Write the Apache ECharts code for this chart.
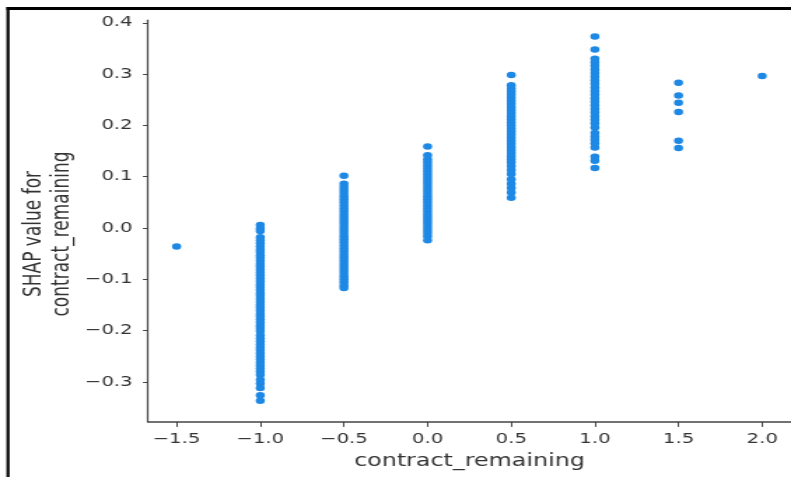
<!DOCTYPE html>
<html>
<head>
<meta charset="utf-8">
<script src="https://cdn.jsdelivr.net/npm/echarts@6/dist/echarts.min.js"></script>
<style>
html,body{margin:0;padding:0;background:#fff;overflow:hidden;}
#wrap{width:791px;height:477px;overflow:hidden;position:relative;}
#chart{width:565px;height:477px;transform:scaleX(1.4);transform-origin:0 0;}
</style>
</head>
<body>
<div id="wrap"><div id="chart"></div></div>
<script>
// feature values (x) and SHAP values per feature value
var featureValues = [-1.5, -1.0, -0.5, 0.0, 0.5, 1.0, 1.5, 2.0];
var shapAtM15 = [-0.036];
var shapAtM10 = [0.006, -0.001, -0.006, -0.018, -0.024, -0.03, -0.036, -0.042, -0.047, -0.053, -0.058, -0.064, -0.07, -0.075, -0.081, -0.087, -0.092, -0.098, -0.104, -0.11, -0.115, -0.121, -0.127, -0.132, -0.138, -0.144, -0.15, -0.155, -0.161, -0.167, -0.172, -0.178, -0.184, -0.19, -0.195, -0.201, -0.209, -0.215, -0.221, -0.227, -0.233, -0.238, -0.244, -0.25, -0.256, -0.262, -0.268, -0.274, -0.28, -0.286, -0.296, -0.303, -0.312, -0.326, -0.337];
var shapAtM05 = [0.102, 0.086, 0.08, 0.074, 0.068, 0.062, 0.056, 0.05, 0.044, 0.038, 0.032, 0.026, 0.02, 0.014, 0.008, 0.002, -0.004, -0.01, -0.016, -0.022, -0.028, -0.034, -0.04, -0.046, -0.052, -0.058, -0.064, -0.07, -0.076, -0.082, -0.088, -0.094, -0.1, -0.106, -0.112, -0.117];
var shapAt00 = [0.159, 0.142, 0.134, 0.128, 0.122, 0.116, 0.11, 0.104, 0.098, 0.092, 0.086, 0.08, 0.074, 0.068, 0.062, 0.056, 0.05, 0.044, 0.038, 0.032, 0.026, 0.02, 0.014, 0.008, 0.002, -0.004, -0.01, -0.016, -0.024];
var shapAt05 = [0.298, 0.278, 0.272, 0.266, 0.26, 0.254, 0.248, 0.242, 0.236, 0.23, 0.224, 0.218, 0.212, 0.206, 0.2, 0.194, 0.188, 0.182, 0.176, 0.17, 0.164, 0.158, 0.152, 0.146, 0.14, 0.134, 0.128, 0.121, 0.113, 0.105, 0.095, 0.086, 0.078, 0.069, 0.059];
var shapAt10 = [0.373, 0.348, 0.33, 0.323, 0.316, 0.309, 0.302, 0.295, 0.288, 0.281, 0.274, 0.267, 0.26, 0.253, 0.246, 0.239, 0.232, 0.225, 0.218, 0.211, 0.204, 0.196, 0.185, 0.178, 0.172, 0.165, 0.157, 0.139, 0.131, 0.117];
var shapAt15 = [0.283, 0.258, 0.244, 0.226, 0.170, 0.156];
var shapAt20 = [0.296];
var shapColumns = [shapAtM15, shapAtM10, shapAtM05, shapAt00, shapAt05, shapAt10, shapAt15, shapAt20];
var xTicks = [-1.5, -1.0, -0.5, 0.0, 0.5, 1.0, 1.5, 2.0];
var yTicks = [-0.3, -0.2, -0.1, 0.0, 0.1, 0.2, 0.3, 0.4];

var points = [];
featureValues.forEach(function (fx, i) {
  shapColumns[i].forEach(function (v) { points.push([fx, v]); });
});

function fmt(v) {
  var s = Math.abs(v).toFixed(1);
  return (v < -1e-9 ? '\u2212' : '') + s;
}

var axisColor = '#444';
var textColor = '#333';
var chart = echarts.init(document.getElementById('chart'), null, {renderer: 'canvas'});
chart.setOption({
  animation: false,
  backgroundColor: '#fff',
  grid: {left: 105.7, right: 0, top: 20.2, bottom: 55.1, containLabel: false},
  xAxis: {
    type: 'value',
    min: -1.671, max: 2.172,
    axisLine: {show: true, onZero: false, lineStyle: {color: axisColor, width: 1.5}},
    axisTick: {show: true, length: 5, customValues: xTicks, lineStyle: {color: axisColor, width: 1}},
    axisLabel: {customValues: xTicks, formatter: fmt, color: textColor, fontSize: 14, fontFamily: 'DejaVu Sans', margin: 10},
    splitLine: {show: false},
    name: 'contract_remaining',
    nameLocation: 'middle',
    nameGap: 31,
    nameTextStyle: {color: textColor, fontSize: 17, fontFamily: 'DejaVu Sans'}
  },
  yAxis: {
    type: 'value',
    min: -0.378, max: 0.405,
    axisLine: {show: true, onZero: false, lineStyle: {color: axisColor, width: 1.2}},
    axisTick: {show: true, length: 3.6, customValues: yTicks, lineStyle: {color: axisColor, width: 1}},
    axisLabel: {customValues: yTicks, formatter: fmt, color: textColor, fontSize: 14, fontFamily: 'DejaVu Sans', margin: 11},
    splitLine: {show: false}
  },
  graphic: [
    {type: 'rect', shape: {x: 4.6, y: 7, width: 2.2, height: 480}, style: {fill: '#000'}},
    {type: 'rect', shape: {x: 4.6, y: 7, width: 570, height: 3}, style: {fill: '#000'}},
    {type: 'text', x: 25, y: 234, rotation: Math.PI / 2,
     style: {text: 'SHAP value for', fill: textColor, fontSize: 17, fontFamily: 'DejaVu Sans', align: 'center', verticalAlign: 'middle'}},
    {type: 'text', x: 44.3, y: 234, rotation: Math.PI / 2,
     style: {text: 'contract_remaining', fill: textColor, fontSize: 17, fontFamily: 'DejaVu Sans', align: 'center', verticalAlign: 'middle'}}
  ],
  series: [{
    type: 'scatter',
    data: points,
    symbol: 'circle',
    symbolSize: 6.5,
    itemStyle: {color: '#1E88E5', opacity: 1},
    silent: true
  }]
});
</script>
</body>
</html>
